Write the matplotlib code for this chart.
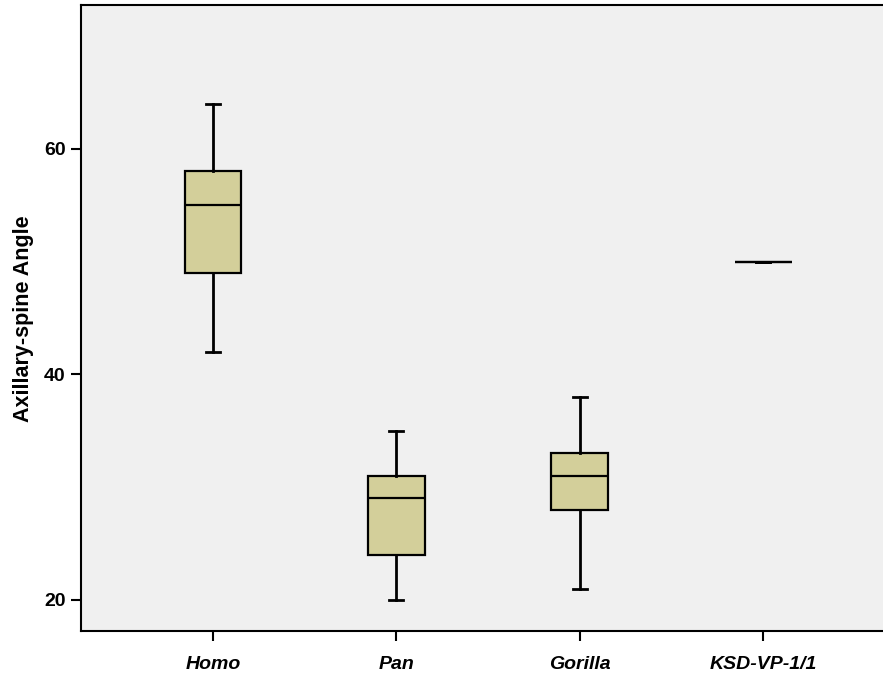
import matplotlib.pyplot as plt

plt.rcParams['font.family'] = ['Liberation Sans', 'DejaVu Sans']

# groups on the x axis
groups = ['Homo', 'Pan', 'Gorilla', 'KSD-VP-1/1']
# five-number summaries
whisker_low = [42, 20, 21, 50]
q1 = [49, 24, 28, 50]
median = [55, 29, 31, 50]
q3 = [58, 31, 33, 50]
whisker_high = [64, 35, 38, 50]

yticks = [20, 40, 60]

stats = []
for i, g in enumerate(groups):
    stats.append({'label': g, 'whislo': whisker_low[i], 'q1': q1[i],
                  'med': median[i], 'q3': q3[i], 'whishi': whisker_high[i],
                  'fliers': []})

fig = plt.figure(figsize=(8.83, 6.79), dpi=100)
ax = fig.add_axes([0.0917, 0.0707, 0.9083, 0.9213])
ax.set_facecolor('#f0f0f0')

ax.bxp(stats, positions=range(len(groups)), widths=0.31, patch_artist=True,
       showfliers=False,
       boxprops=dict(facecolor='#d3cf9a', edgecolor='black', linewidth=1.6),
       medianprops=dict(color='black', linewidth=1.6),
       whiskerprops=dict(color='black', linewidth=2),
       capprops=dict(color='black', linewidth=2),
       capwidths=0.077)

ax.set_xlim(-0.72, 3.654)
ax.set_ylim(17.25, 72.7)
ax.set_yticks(yticks)
ax.set_yticklabels([str(v) for v in yticks], fontsize=14, fontweight='bold')
ax.set_xticks(range(len(groups)))
ax.set_xticklabels(groups, fontsize=14, fontweight='bold', style='italic')
ax.set_ylabel('Axillary-spine Angle', fontsize=15.5, fontweight='bold', labelpad=7)
ax.tick_params(direction='out', length=7, width=1.5, pad=4)
ax.tick_params(axis='x', pad=11)

ax.spines['right'].set_visible(False)
for s in ['left', 'bottom', 'top']:
    ax.spines[s].set_linewidth(1.5)

fig.savefig('out.png')
